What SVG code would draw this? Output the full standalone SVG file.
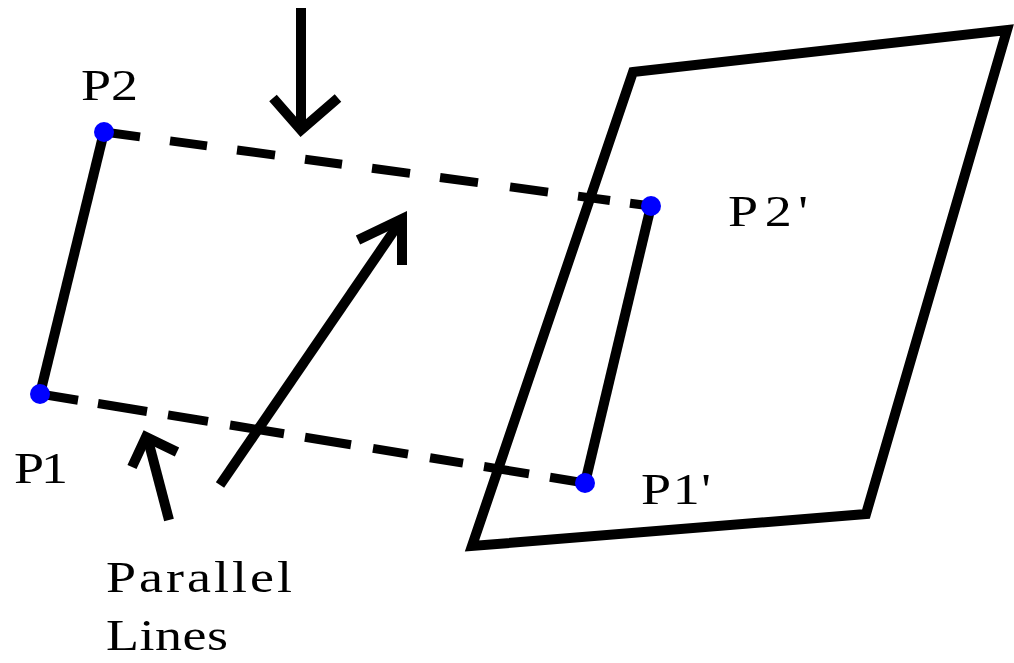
<svg xmlns="http://www.w3.org/2000/svg" width="1014" height="663" viewBox="0 0 1014 663">
<style>
.ln{fill:none;stroke:#000;stroke-width:10;stroke-linecap:butt;stroke-linejoin:miter}
.dash{fill:none;stroke:#000;stroke-width:9;stroke-linecap:butt}
.pt{fill:#0000ff}
.lbl{font-family:"Liberation Serif","Times New Roman",serif;font-size:45px;fill:#000}
</style>
<rect width="1014" height="663" fill="#fff"/>
<g id="plane">
<polygon class="ln" points="633,72 1007,30 866,514 472,546"/>
</g>
<g id="connectors">
<path class="dash" d="M104,132 L140,136.9 M170,140.9 L207,145.9 M237,150 L275,155.1 M305,159.2 L342,164.2 M372,168.3 L410,173.4 M440,177.5 L478,182.6 M510,186.9 L548,192.1 M578,196.1 L610,200.5 M630,203.2 L651,206"/>
<path class="dash" d="M40,394 L78,400.2 M98,403.5 L147,411.5 M168,414.9 L208,421.4 M230,425 L284,433.8 M305,437.3 L351,444.8 M373,448.4 L408,454.1 M430,457.7 L463,463.1 M484,466.5 L529,473.9 M550,477.3 L585,483"/>
<line class="ln" x1="104" y1="132" x2="40" y2="394"/>
<line class="ln" x1="651" y1="206" x2="585" y2="483"/>
<line class="ln" x1="301" y1="8" x2="301" y2="126"/>
<polyline class="ln" points="273,98 301,130 338,98"/>
<line class="ln" x1="220" y1="485" x2="400" y2="222"/>
<polyline class="ln" points="358,240 402,219 402,265"/>
<line class="ln" x1="169" y1="520" x2="148" y2="440"/>
<polyline class="ln" points="132,467 146,437 177,452"/>
</g>
<g id="P2"><circle class="pt" cx="104" cy="132" r="10"/><text class="lbl" transform="translate(81,100) scale(1.2,1)" textLength="47.5" lengthAdjust="spacing">P2</text></g>
<g id="P1"><circle class="pt" cx="40" cy="394" r="10"/><text class="lbl" transform="translate(14,483) scale(1.2,1)" textLength="45" lengthAdjust="spacing">P1</text></g>
<g id="P2prime"><circle class="pt" cx="651" cy="206" r="10"/><text class="lbl" transform="translate(728,226) scale(1.2,1)" textLength="66.7" lengthAdjust="spacing">P2'</text></g>
<g id="P1prime"><circle class="pt" cx="585" cy="483" r="10"/><text class="lbl" transform="translate(641,504) scale(1.2,1)" textLength="58.3" lengthAdjust="spacing">P1'</text></g>
<g id="label">
<text class="lbl" transform="translate(106,592) scale(1.2,1)" textLength="155" lengthAdjust="spacing">Parallel</text>
<text class="lbl" transform="translate(106,650) scale(1.2,1)" textLength="101.7" lengthAdjust="spacing">Lines</text>
</g>
</svg>
